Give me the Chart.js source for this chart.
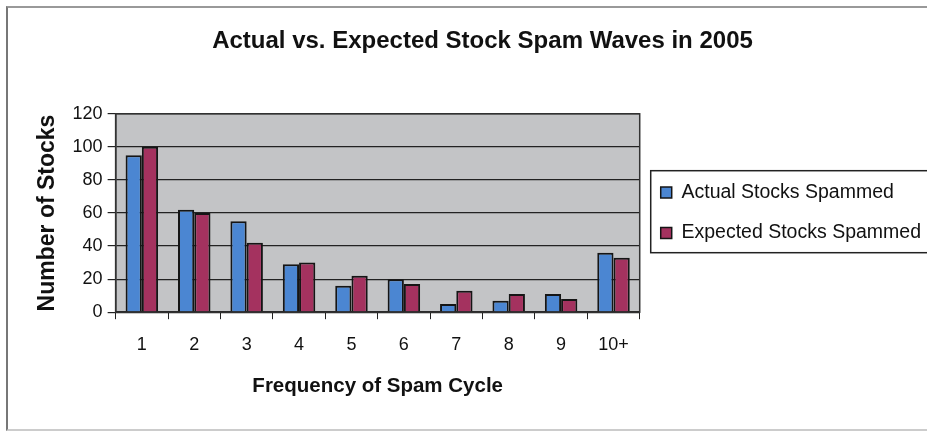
<!DOCTYPE html>
<html>
<head>
<meta charset="utf-8">
<script src="https://cdn.jsdelivr.net/npm/chart.js@4.4.1/dist/chart.umd.min.js"></script>
<style>
    html, body { margin: 0; padding: 0; background: #fff; overflow: hidden; }
    #wrap { position: relative; width: 927px; height: 432px; overflow: hidden; }
    #frame {
        position: absolute; left: 6px; top: 6px; width: 940px; height: 421px;
        border-left: 2px solid #777; border-top: 2px solid #999; border-bottom: 2px solid #ccc;
        pointer-events: none;
    }
    #chartBox { position: absolute; left: 0; top: 0; width: 945px; height: 432px; }
</style>
</head>
<body>
<div id="wrap">
    <div id="chartBox"><canvas id="chart"></canvas></div>
    <div id="frame"></div>
</div>
<script>
const categories = ['1', '2', '3', '4', '5', '6', '7', '8', '9', '10+'];
const actualStocks = [95, 62, 55, 29, 16, 20, 5, 7, 11, 36];
const expectedStocks = [100, 60, 42, 30, 22, 17, 13, 11, 8, 33];
const yTicks = [0, 20, 40, 60, 80, 100, 120];

const plotBackground = {
    id: 'plotBackground',
    beforeDraw: (chart) => {
        const { ctx, chartArea } = chart;
        ctx.save();
        ctx.fillStyle = '#c3c4c6';
        ctx.fillRect(chartArea.left, chartArea.top, chartArea.right - chartArea.left, chartArea.bottom - chartArea.top);
        ctx.restore();
    },
    afterDraw: (chart) => {
        const { ctx, chartArea } = chart;
        ctx.save();
        ctx.strokeStyle = '#333';
        ctx.lineWidth = 1.5;
        ctx.strokeRect(chartArea.left, chartArea.top, chartArea.right - chartArea.left, chartArea.bottom - chartArea.top);

        // frame round the legend, like the Excel one
        const boxes = chart.legend.legendHitBoxes;
        if (boxes && boxes.length) {
            const first = boxes[0];
            const last = boxes[boxes.length - 1];
            const top = first.top - 12;
            const bottom = last.top + last.height + 10;
            const left = first.left - 10;
            ctx.strokeStyle = '#222';
            ctx.lineWidth = 1.5;
            ctx.strokeRect(left, top, chart.width + 20 - left, bottom - top);
        }
        ctx.restore();
    }
};

new Chart('chart', {
    type: 'bar',
    data: {
        labels: categories,
        datasets: [
            {
                label: 'Actual Stocks Spammed',
                data: actualStocks,
                backgroundColor: '#4b86d2',
                borderColor: '#151515',
                borderWidth: 2,
                borderSkipped: 'bottom',
            },
            {
                label: 'Expected Stocks Spammed',
                data: expectedStocks,
                backgroundColor: '#a4325f',
                borderColor: '#151515',
                borderWidth: 2,
                borderSkipped: 'bottom',
            },
        ],
    },
    options: {
        responsive: true,
        maintainAspectRatio: false,
        animation: false,
        layout: {
            padding: { top: 27, left: 34, right: 14, bottom: 33.6 },
        },
        datasets: {
            bar: {
                categoryPercentage: 0.62,
                barPercentage: 1,
            },
        },
        scales: {
            x: {
                grid: {
                    display: true,
                    drawOnChartArea: false,
                    offset: true,
                    color: '#222',
                    tickLength: 7,
                },
                border: { color: '#222', width: 1.5 },
                ticks: {
                    color: '#111',
                    font: { family: 'Liberation Sans', size: 18 },
                    padding: 15,
                },
                title: {
                    display: true,
                    text: 'Frequency of Spam Cycle',
                    color: '#111',
                    font: { family: 'Liberation Sans', size: 20.5, weight: 'bold' },
                    padding: { top: 3, bottom: 0 },
                },
            },
            y: {
                min: 0,
                max: 120,
                afterBuildTicks: (axis) => {
                    axis.ticks = yTicks.map((value) => ({ value }));
                },
                grid: {
                    color: '#222',
                    lineWidth: 1.2,
                    tickLength: 8,
                },
                border: { color: '#222', width: 1.5 },
                ticks: {
                    color: '#111',
                    font: { family: 'Liberation Sans', size: 18 },
                    padding: 5,
                },
                title: {
                    display: true,
                    text: 'Number of Stocks',
                    color: '#111',
                    font: { family: 'Liberation Sans', size: 23, weight: 'bold' },
                    padding: { top: 0, bottom: 6 },
                },
            },
        },
        plugins: {
            title: {
                display: true,
                text: 'Actual vs. Expected Stock Spam Waves in 2005',
                color: '#111',
                font: { family: 'Liberation Sans', size: 24, weight: 'bold' },
                padding: { top: 0, bottom: 58 },
            },
            legend: {
                position: 'right',
                maxWidth: 400,
                labels: {
                    color: '#111',
                    font: { family: 'Liberation Sans', size: 19.5 },
                    boxWidth: 11,
                    boxHeight: 11,
                    padding: 21,
                    useBorderRadius: false,
                    generateLabels: (chart) => chart.data.datasets.map((ds, i) => ({
                        text: ds.label,
                        fillStyle: ds.backgroundColor,
                        strokeStyle: '#151515',
                        lineWidth: 1.5,
                        datasetIndex: i,
                        fontColor: '#111',
                    })),
                },
            },
            tooltip: { enabled: false },
        },
    },
    plugins: [plotBackground],
});
</script>
</body>
</html>
